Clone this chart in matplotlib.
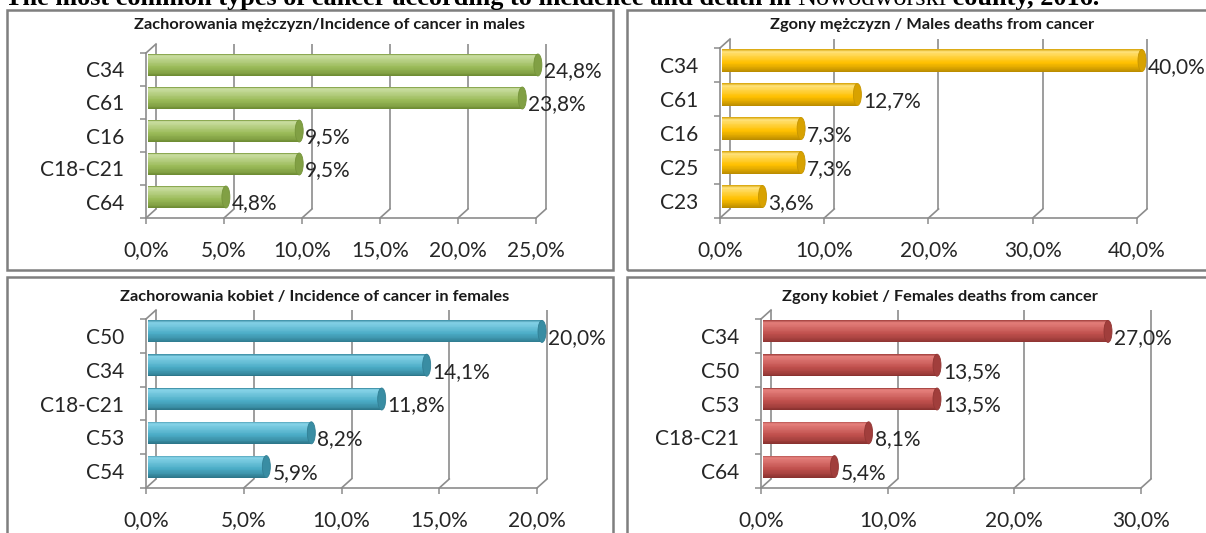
import matplotlib
matplotlib.use("Agg")
import matplotlib.pyplot as plt
from matplotlib.patches import Rectangle, Ellipse
from matplotlib.colors import to_rgb
import numpy as np

# ---------------- data ----------------
main_title_a = "The most common types of cancer according to incidence and death in "
main_title_b = "Nowodworski"
main_title_c = " county, 2016."

tl_title = "Zachorowania mężczyzn/Incidence of cancer in males"
tl_cats = ["C34", "C61", "C16", "C18-C21", "C64"]
tl_vals = [24.8, 23.8, 9.5, 9.5, 4.8]
tl_ticks = [0, 5, 10, 15, 20, 25]

tr_title = "Zgony mężczyzn / Males deaths from cancer"
tr_cats = ["C34", "C61", "C16", "C25", "C23"]
tr_vals = [40.0, 12.7, 7.3, 7.3, 3.6]
tr_ticks = [0, 10, 20, 30, 40]

bl_title = "Zachorowania kobiet / Incidence of cancer in females"
bl_cats = ["C50", "C34", "C18-C21", "C53", "C54"]
bl_vals = [20.0, 14.1, 11.8, 8.2, 5.9]
bl_ticks = [0, 5, 10, 15, 20]

br_title = "Zgony kobiet / Females deaths from cancer"
br_cats = ["C34", "C50", "C53", "C18-C21", "C64"]
br_vals = [27.0, 13.5, 13.5, 8.1, 5.4]
br_ticks = [0, 10, 20, 30]

# ---------------- style ----------------
W, H = 1206, 533
FONT = "Lato"
FS = 15
GRID = "#8C8C8C"
TXT = "#262626"
DX, DY = 10, 9          # depth offset of back wall (pixels)
BAR_PX = 22             # bar thickness in pixels
CAP_RX = 4              # cap ellipse half-width in pixels

PALETTES = {
    "green": ("#C9DDA0", "#9BBB59", "#6C8A32"),
    "yellow": ("#FFE27A", "#FFC000", "#B88A00"),
    "blue": ("#86D3E8", "#4BACC6", "#2B7487"),
    "red": ("#E5807C", "#C0504D", "#87302E"),
}

fig = plt.figure(figsize=(W / 100, H / 100), dpi=100)
fig.patch.set_facecolor("white")


def mix(a, b, t):
    a, b = np.array(to_rgb(a)), np.array(to_rgb(b))
    return tuple(a * (1 - t) + b * t)


def profile(pal, t):
    light, base, dark = pal
    stops = [
        (0.0, mix(base, dark, 0.6)),
        (0.10, to_rgb(light)),
        (0.30, mix(light, base, 0.4)),
        (0.60, to_rgb(base)),
        (0.85, mix(base, dark, 0.5)),
        (1.0, to_rgb(dark)),
    ]
    for (t0, c0), (t1, c1) in zip(stops[:-1], stops[1:]):
        if t0 <= t <= t1:
            f = (t - t0) / (t1 - t0)
            return tuple(np.array(c0) * (1 - f) + np.array(c1) * f)
    return stops[-1][1]


def fmt(v):
    return f"{v:.1f}%".replace(".", ",")


def box(x0, y0, x1, y1):
    fig.add_artist(Rectangle((x0 / W, (H - y1) / H), (x1 - x0) / W, (y1 - y0) / H,
                             transform=fig.transFigure, fill=False,
                             ec="#7F7F7F", lw=1.8, zorder=0))


def panel(frame, title, title_xy, cats, vals, ticks, pal_name):
    x0, x1, top, floor = frame
    pal = PALETTES[pal_name]
    ax = fig.add_axes([x0 / W, (H - floor) / H, (x1 - x0) / W, (floor - top) / H])
    ax.set_facecolor("none")
    n = len(cats)
    xmax = ticks[-1]
    ax.set_xlim(0, xmax)
    ax.set_ylim(-0.5, n - 0.5)
    pxx = (x1 - x0) / xmax
    pxy = (floor - top) / n
    ux, uy = DX / pxx, DY / pxy
    ypos = np.arange(n)[::-1]

    for s in ["top", "right"]:
        ax.spines[s].set_visible(False)
    for s in ["left", "bottom"]:
        ax.spines[s].set_color(GRID)
        ax.spines[s].set_linewidth(1.2)

    ax.set_xticks(ticks)
    ax.set_xticklabels([fmt(t) for t in ticks], fontsize=FS, family=FONT, color=TXT)
    ax.tick_params(axis="x", length=4.3, width=1.1, color=GRID, pad=11.5)
    ax.set_yticks(ypos)
    ax.set_yticklabels(cats, fontsize=FS, family=FONT, color=TXT)
    ax.tick_params(axis="y", which="major", length=0, pad=15.5)
    ax.set_yticks(np.arange(n + 1) - 0.5, minor=True)
    ax.tick_params(axis="y", which="minor", length=4.3, width=1.1, color=GRID)

    # back wall gridlines and floor connectors
    lo, hi = -0.5, n - 0.5
    for t in ticks:
        ax.plot([t + ux, t + ux], [lo + uy, hi + uy], color=GRID, lw=1.2,
                clip_on=False, zorder=1, solid_capstyle="butt")
        ax.plot([t, t + ux], [lo, lo + uy], color=GRID, lw=1.2, clip_on=False, zorder=1)
    ax.plot([0, ux], [hi, hi + uy], color=GRID, lw=1.2, clip_on=False, zorder=1)

    # cylinder bars (stacked strips for shading)
    vals = np.asarray(vals, dtype=float)
    h = BAR_PX / pxy
    yc = ypos + uy / 2
    left = ux * 0.2
    widths = vals + ux / 2 - left
    N = 28
    for k in range(N):
        t = (k + 0.5) / N
        off = h / 2 - t * h
        ax.barh(yc + off, widths, left=left, height=h / N * 1.25,
                color=profile(pal, t), lw=0, zorder=3, clip_on=False)
    for v, y in zip(vals, yc):
        ax.add_patch(Ellipse((v + ux / 2, y), 2 * CAP_RX / pxx, h,
                             fc=mix(pal[1], pal[2], 0.55), ec=mix(pal[1], pal[2], 0.8),
                             lw=0.6, zorder=4, clip_on=False))
    for v, y in zip(vals, ypos):
        ax.annotate(fmt(v), xy=(v + ux / 2, y), xytext=(CAP_RX + 2, 0),
                    textcoords="offset pixels", ha="left", va="center_baseline",
                    fontsize=FS, family=FONT, color=TXT, zorder=5,
                    annotation_clip=False)

    fig.text(title_xy[0] / W, 1 - title_xy[1] / H, title, ha="center", va="center",
             fontsize=11.8, family=FONT, weight="bold", color="#1A1A1A")
    return ax


# panel frames
box(7, 10, 613, 270)
box(627, 10, 1230, 270)
box(7, 277, 613, 560)
box(627, 277, 1230, 560)

panel((146, 536, 53, 218), tl_title, (329, 25), tl_cats, tl_vals, tl_ticks, "green")
panel((720, 1137, 48, 218), tr_title, (932, 25), tr_cats, tr_vals, tr_ticks, "yellow")
panel((146, 537, 319, 488), bl_title, (315, 297), bl_cats, bl_vals, bl_ticks, "blue")
panel((761, 1141, 319, 488), br_title, (940, 297), br_cats, br_vals, br_ticks, "red")

# main title (cut at the top like the reference)
renderer = fig.canvas.get_renderer()
target_w = 1097
size = 17
base_y = 1 - 5 / H


def draw_title(sz):
    parts = []
    x = 5 / W
    for txt, wt in [(main_title_a, "bold"), (main_title_b, "normal"), (main_title_c, "bold")]:
        t = fig.text(x, base_y, txt, ha="left", va="baseline", fontsize=sz,
                     family="Liberation Serif", weight=wt, color="black")
        bb = t.get_window_extent(renderer)
        x = (bb.x1) / W
        parts.append(t)
    return parts, x * W - 5


parts, wtot = draw_title(size)
for p in parts:
    p.remove()
size = size * target_w / wtot
draw_title(size)

fig.savefig("out.png", dpi=100, facecolor="white")
